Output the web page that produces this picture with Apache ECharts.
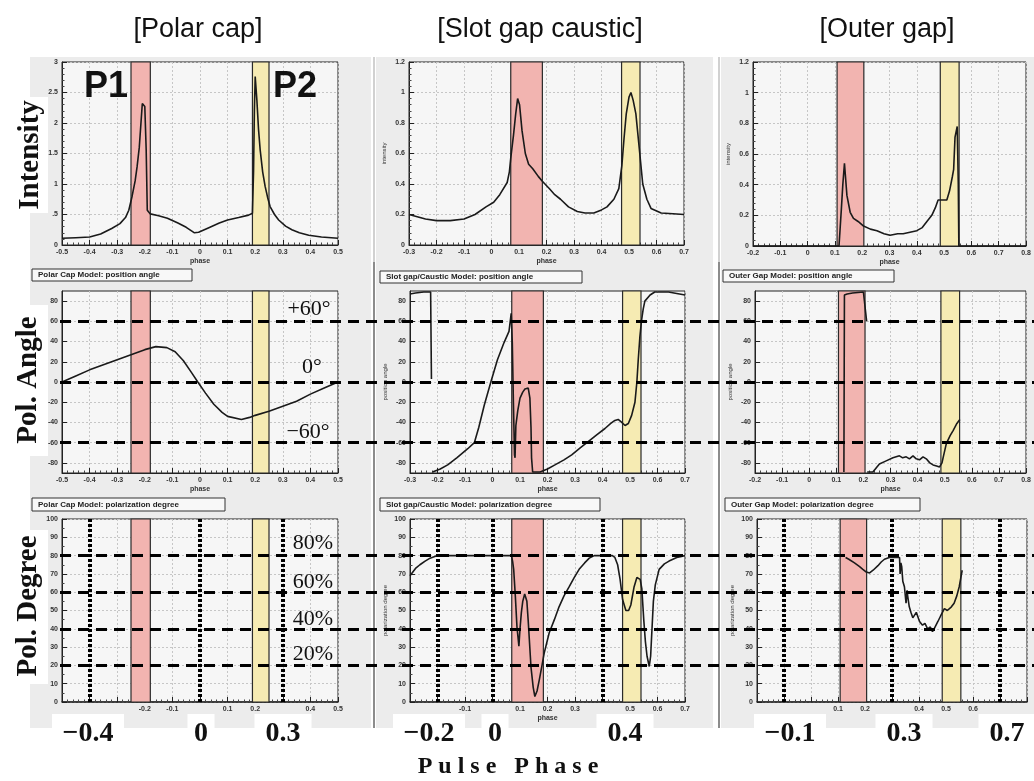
<!DOCTYPE html>
<html>
<head>
<meta charset="utf-8">
<script src="https://cdn.jsdelivr.net/npm/echarts@6/dist/echarts.min.js"></script>
<style>
  html, body { margin: 0; padding: 0; background: #ffffff; }
  #chart { width: 1034px; height: 781px; }
</style>
</head>
<body>
<div id="chart"></div>
<script>
// ---- Phase windows of the two peaks (P1 red, P2 yellow) per model ----
const pcBands = [[-0.25, -0.18], [0.19, 0.25]];
const scBands = [[0.07, 0.185], [0.473, 0.54]];
const ogBands = [[0.108, 0.206], [0.486, 0.555]];

// ---- Light curves: [phase, intensity] ----
const pcIntensity = [[-0.5,0.11],[-0.45,0.12],[-0.4,0.13],[-0.36,0.18],[-0.32,0.27],[-0.29,0.35],[-0.27,0.45],
  [-0.258,0.57],[-0.246,0.8],[-0.235,1.05],[-0.228,1.28],[-0.22,1.6],[-0.215,1.93],[-0.209,2.32],[-0.2,2.27],
  [-0.195,1.56],[-0.191,0.57],[-0.18,0.51],[-0.15,0.48],[-0.118,0.44],[-0.08,0.36],[-0.05,0.29],[-0.02,0.2],
  [-0.005,0.21],[0.03,0.28],[0.07,0.36],[0.1,0.41],[0.14,0.45],[0.176,0.49],[0.19,0.52],[0.194,1.2],[0.197,2.2],
  [0.2,2.76],[0.206,2.38],[0.212,1.9],[0.218,1.56],[0.227,1.2],[0.236,0.96],[0.245,0.78],[0.254,0.63],[0.27,0.5],
  [0.285,0.41],[0.31,0.31],[0.333,0.25],[0.36,0.2],[0.394,0.16],[0.44,0.13],[0.5,0.11]];
const scIntensity = [[-0.3,0.2],[-0.27,0.185],[-0.24,0.17],[-0.2,0.16],[-0.15,0.16],[-0.1,0.17],[-0.06,0.2],
  [-0.02,0.25],[0.008,0.28],[0.03,0.33],[0.057,0.41],[0.065,0.48],[0.07,0.57],[0.08,0.72],[0.088,0.86],[0.095,0.96],
  [0.102,0.92],[0.111,0.75],[0.123,0.6],[0.135,0.53],[0.15,0.5],[0.17,0.45],[0.184,0.42],[0.21,0.37],[0.23,0.33],
  [0.251,0.3],[0.28,0.25],[0.312,0.22],[0.34,0.21],[0.372,0.21],[0.4,0.23],[0.42,0.25],[0.445,0.3],[0.463,0.37],
  [0.474,0.52],[0.482,0.7],[0.49,0.86],[0.5,0.97],[0.507,1.0],[0.515,0.95],[0.525,0.86],[0.537,0.64],[0.55,0.4],
  [0.565,0.3],[0.58,0.24],[0.617,0.21],[0.66,0.205],[0.7,0.2]];
const ogIntensity = [[-0.2,0],[0.115,0],[0.119,0.11],[0.124,0.25],[0.129,0.4],[0.135,0.54],[0.144,0.33],
  [0.156,0.22],[0.168,0.18],[0.185,0.16],[0.205,0.13],[0.23,0.11],[0.254,0.1],[0.28,0.08],[0.302,0.07],[0.33,0.08],
  [0.35,0.08],[0.375,0.09],[0.4,0.1],[0.42,0.12],[0.437,0.16],[0.455,0.2],[0.468,0.25],[0.478,0.3],[0.495,0.3],
  [0.51,0.3],[0.52,0.36],[0.53,0.45],[0.535,0.5],[0.54,0.71],[0.548,0.78],[0.552,0.4],[0.554,0],[0.8,0]];

// ---- Position angle: [phase, degrees] (null = wrap-around break) ----
const pcAngle = [[-0.5,0],[-0.45,6],[-0.4,12],[-0.35,17],[-0.3,22],[-0.25,27],[-0.2,32],[-0.16,35],[-0.12,34],
  [-0.09,30],[-0.06,21],[-0.03,9],[-0.008,0],[0.02,-11],[0.05,-22],[0.08,-30],[0.1,-34],[0.15,-37],[0.18,-35],
  [0.2,-33],[0.25,-29],[0.3,-24],[0.35,-19],[0.4,-12],[0.45,-6],[0.5,0]];
const scAngle = [[-0.3,87],[-0.28,88],[-0.25,89],[-0.225,89],[-0.222,88],[-0.222,3],[-0.221,null],[-0.218,-89],
  [-0.19,-86],[-0.163,-82],[-0.13,-75],[-0.09,-66],[-0.066,-60],[-0.05,-45],[-0.03,-23],[-0.006,0],[0.018,22],
  [0.042,39],[0.06,50],[0.068,68],[0.072,39],[0.076,-20],[0.08,-72],[0.082,-75],[0.085,-43],[0.092,-28],[0.1,-16],
  [0.11,-10],[0.118,-7],[0.13,-6],[0.136,-16],[0.14,-45],[0.142,-75],[0.146,-89],[0.173,-89],[0.2,-86],[0.227,-82],
  [0.26,-77],[0.288,-72],[0.32,-65],[0.348,-59],[0.38,-52],[0.409,-46],[0.43,-41],[0.445,-38],[0.457,-37],
  [0.47,-40],[0.482,-43],[0.494,-41],[0.506,-33],[0.518,-20],[0.525,0],[0.53,22],[0.536,45],[0.542,61],[0.548,72],
  [0.554,80],[0.573,86],[0.59,89],[0.64,89],[0.7,86]];
const ogAngle = [[0.128,-89],[0.13,86],[0.14,87],[0.16,88],[0.18,88.5],[0.2,89],[0.207,89.5],[0.212,60],
  [0.213,null],[0.214,-89],[0.235,-89],[0.259,-81],[0.284,-78],[0.309,-75],[0.333,-73],[0.345,-75],[0.358,-74],
  [0.37,-76],[0.383,-73],[0.395,-76],[0.407,-77],[0.42,-74],[0.432,-76],[0.445,-80],[0.457,-82],[0.47,-83],
  [0.481,-84],[0.49,-80],[0.494,-75],[0.506,-61],[0.52,-53],[0.531,-48],[0.545,-41],[0.556,-37]];

// ---- Polarization degree: [phase, percent] ----
const pcDegree = [];
const scDegree = [[-0.3,69],[-0.294,70],[-0.28,73],[-0.264,75],[-0.245,77],[-0.227,78.6],[-0.2,80],[0.069,80],
  [0.073,77],[0.077,72.5],[0.083,58],[0.089,41],[0.096,30.5],[0.1,40],[0.105,49],[0.11,55],[0.117,59],[0.125,55],
  [0.13,44],[0.134,34],[0.14,19],[0.148,8],[0.154,3],[0.162,6],[0.17,12],[0.18,20],[0.188,26.7],[0.206,37.7],
  [0.225,45],[0.242,52],[0.26,58],[0.279,63],[0.297,68],[0.315,72.5],[0.335,76],[0.352,78.6],[0.37,80],[0.436,80],
  [0.445,79],[0.455,75],[0.464,67],[0.473,56],[0.485,50],[0.495,50],[0.503,53],[0.515,63],[0.525,68],[0.531,69],
  [0.537,67],[0.543,62],[0.55,45],[0.556,33],[0.562,25],[0.57,19.4],[0.575,25],[0.58,40],[0.585,55],[0.592,64],
  [0.606,72.5],[0.625,75.5],[0.642,77],[0.67,79],[0.7,80]];
const ogDegree = [[0.128,79],[0.14,78],[0.161,76],[0.18,74],[0.192,72.5],[0.205,71],[0.217,70.5],[0.23,72],
  [0.248,74.5],[0.26,76.5],[0.272,78],[0.29,79],[0.309,79],[0.328,79],[0.33,70],[0.333,76],[0.336,74],[0.34,66],
  [0.346,63],[0.352,54],[0.356,61],[0.358,58],[0.364,52],[0.37,49],[0.377,46],[0.383,47],[0.39,49],[0.395,48],
  [0.402,44],[0.413,42],[0.422,43],[0.432,40],[0.442,41],[0.45,38.5],[0.456,40],[0.462,41],[0.47,44],[0.48,47],
  [0.494,51],[0.505,50],[0.512,50],[0.52,52],[0.53,54],[0.54,58],[0.549,63],[0.555,68],[0.56,72]];

// ---- Reference levels and phases ----
const angleRefs = [60, 0, -60];
const degreeRefs = [80, 60, 40, 20];
const pcPhaseMarks = [-0.4, 0, 0.3];
const scPhaseMarks = [-0.2, 0, 0.4];
const ogPhaseMarks = [-0.1, 0.3, 0.7];
const angleTicks = [-80, -60, -40, -20, 0, 20, 40, 60, 80];

// Phase tick labels left visible under the bottom row
const pcDegreeTicks = ['-0.2', '-0.1', '0.1', '0.2', '0.4', '0.5'];
const scDegreeTicks = ['-0.1', '0.1', '0.2', '0.3', '0.5', '0.6', '0.7'];
const ogDegreeTicks = ['0.1', '0.2', '0.4', '0.5', '0.6'];

// ---- Text ----
const modelTitles = ['[Polar cap]', '[Slot gap caustic]', '[Outer gap]'];
const rowTitles = ['Intensity', 'Pol. Angle', 'Pol. Degree'];
const boxTitles = [
  'Polar Cap Model: position angle', 'Slot gap/Caustic Model: position angle', 'Outer Gap Model: position angle',
  'Polar Cap Model: polarization degree', 'Slot gap/Caustic Model: polarization degree', 'Outer Gap Model: polarization degree'
];

// ---------------------------------------------------------------------------
const INK = '#1a1a1a';
const RED = '#f2b4b0';
const YEL = '#f6ebb3';

function phaseText(v) {
  const s = (Math.round(v * 10) / 10).toFixed(1);
  return (s === '0.0' || s === '-0.0') ? '0' : s;
}

// Plot frames: [left, top, width, height]
const frames = [
  [62, 62, 276, 183], [409, 62, 275, 183], [753, 62, 273, 184],
  [62, 291, 276, 182], [410, 291, 275, 182], [755, 291, 271, 182],
  [62, 519, 276, 183], [410, 519, 275, 183], [757, 519, 270, 183]
];
const xRanges = [[-0.5, 0.5], [-0.3, 0.7], [-0.2, 0.8]];

const grids = frames.map(f => ({
  left: f[0], top: f[1], width: f[2], height: f[3],
  show: true, backgroundColor: '#f6f6f6', borderColor: '#222', borderWidth: 1
}));
// overlay frames for the reference levels that run across all columns
grids.push({ left: 60, top: 291, width: 974, height: 182, show: false });
grids.push({ left: 60, top: 519, width: 974, height: 183, show: false });

const tickLabelStyle = { fontSize: 7, fontWeight: 'bold', color: '#333', fontFamily: 'Liberation Sans' };
const splitStyle = { show: true, lineStyle: { color: '#c6c6c6', type: [2, 2], width: 1 } };

const xAxes = [], yAxes = [];
for (let i = 0; i < 9; i++) {
  const row = Math.floor(i / 3), col = i % 3;
  const r = xRanges[col];
  const shownTicks = row === 2 ? [pcDegreeTicks, scDegreeTicks, ogDegreeTicks][col] : null;
  xAxes.push({
    type: 'value', gridIndex: i, min: r[0], max: r[1], interval: 0.1,
    axisLine: { show: true, onZero: false, lineStyle: { color: '#222', width: row === 2 ? 1.5 : 1 } },
    axisTick: { show: true, inside: true, length: 5, lineStyle: { color: '#222' } },
    minorTick: { show: true, splitNumber: 5, length: 2.5, lineStyle: { color: '#444' } },
    splitLine: splitStyle,
    axisLabel: Object.assign({ margin: 4, formatter: v => {
      const t = phaseText(v);
      if (shownTicks) return shownTicks.indexOf(t) >= 0 ? t : '';
      return t;
    } }, tickLabelStyle),
    name: row === 2 && col !== 1 ? '' : 'phase', nameLocation: 'middle', nameGap: 13,
    nameTextStyle: { fontSize: 7, fontWeight: 'bold', color: '#333' }
  });
  const yName = col === 0 ? '' : ['intensity', 'position angle', 'polarization degree'][row];
  const yBase = {
    type: 'value', gridIndex: i,
    axisLine: { show: true, onZero: false, lineStyle: { color: '#222' } },
    splitLine: splitStyle,
    name: yName, nameLocation: 'middle', nameRotate: 90, nameGap: col === 0 ? 20 : 22,
    nameTextStyle: { fontSize: 6, color: '#333' }
  };
  if (row === 0) {
    const top = col === 0 ? 3 : 1.2;
    const step = col === 0 ? 0.5 : 0.2;
    yAxes.push(Object.assign(yBase, {
      min: 0, max: top, interval: step,
      axisTick: { show: true, inside: true, length: 5, lineStyle: { color: '#222' } },
      minorTick: { show: true, splitNumber: 5, length: 2.5, lineStyle: { color: '#444' } },
      axisLabel: Object.assign({ margin: 4, formatter: v => {
        if (col === 0) return v === 0 ? '0' : (v === 0.5 ? '.5' : String(v));
        return v === 0 ? '0' : String(Math.round(v * 10) / 10);
      } }, tickLabelStyle)
    }));
  } else if (row === 1) {
    yAxes.push(Object.assign(yBase, {
      min: -90, max: 90,
      axisTick: { show: true, inside: true, length: 5, customValues: angleTicks, lineStyle: { color: '#222' } },
      axisLabel: Object.assign({ margin: 4, customValues: angleTicks }, tickLabelStyle)
    }));
  } else {
    yAxes.push(Object.assign(yBase, {
      min: 0, max: 100, interval: 10,
      axisTick: { show: true, inside: true, length: 5, lineStyle: { color: '#222' } },
      minorTick: { show: true, splitNumber: 2, length: 2.5, lineStyle: { color: '#444' } },
      axisLabel: Object.assign({ margin: 4 }, tickLabelStyle)
    }));
  }
}
// overlay axes
xAxes.push({ type: 'value', gridIndex: 9, min: 0, max: 1, show: false });
xAxes.push({ type: 'value', gridIndex: 10, min: 0, max: 1, show: false });
yAxes.push({ type: 'value', gridIndex: 9, min: -90, max: 90, show: false });
yAxes.push({ type: 'value', gridIndex: 10, min: 0, max: 100, show: false });

const bandsByCol = [pcBands, scBands, ogBands];
const curves = [pcIntensity, scIntensity, ogIntensity, pcAngle, scAngle, ogAngle, pcDegree, scDegree, ogDegree];
const phaseMarksByCol = [pcPhaseMarks, scPhaseMarks, ogPhaseMarks];

const series = [];
for (let i = 0; i < 9; i++) {
  const row = Math.floor(i / 3), col = i % 3;
  const b = bandsByCol[col];
  const bandBorder = { borderColor: '#2a2a2a', borderWidth: 1.2 };
  series.push({
    type: 'line', xAxisIndex: i, yAxisIndex: i, data: [], z: 1, silent: true,
    markArea: {
      silent: true,
      data: [
        [{ xAxis: b[0][0], itemStyle: Object.assign({ color: RED }, bandBorder) }, { xAxis: b[0][1] }],
        [{ xAxis: b[1][0], itemStyle: Object.assign({ color: YEL }, bandBorder) }, { xAxis: b[1][1] }]
      ]
    }
  });
  const s = {
    type: 'line', xAxisIndex: i, yAxisIndex: i, data: curves[i], z: 3,
    showSymbol: false, symbol: 'none', connectNulls: false,
    lineStyle: { color: INK, width: 1.6 }
  };
  if (row === 2) {
    s.markLine = {
      silent: true, symbol: ['none', 'none'], label: { show: false },
      lineStyle: { color: '#000', width: 4, type: [3, 2] },
      data: phaseMarksByCol[col].map(v => ({ xAxis: v }))
    };
  }
  series.push(s);
}
series.push({
  type: 'line', xAxisIndex: 9, yAxisIndex: 9, data: [], z: 10,
  markLine: {
    silent: true, symbol: ['none', 'none'], label: { show: false },
    lineStyle: { color: '#000', width: 3, type: [11, 7] },
    data: angleRefs.map(v => ({ yAxis: v }))
  }
});
series.push({
  type: 'line', xAxisIndex: 10, yAxisIndex: 10, data: [], z: 10,
  markLine: {
    silent: true, symbol: ['none', 'none'], label: { show: false },
    lineStyle: { color: '#000', width: 3, type: [11, 7] },
    data: degreeRefs.map(v => ({ yAxis: v }))
  }
});

// ---- decorations: panels, headings, captions ----
const graphics = [];
[[30, 57, 341, 671], [376, 57, 337, 671], [721, 57, 313, 671]].forEach(p => {
  graphics.push({ type: 'rect', z: -10, shape: { x: p[0], y: p[1], width: p[2], height: p[3] }, style: { fill: '#ececec' } });
});
[374, 719].forEach(x => {
  graphics.push({ type: 'line', z: -5, shape: { x1: x, y1: 57, x2: x, y2: 262 }, style: { stroke: '#c2c2c2', lineWidth: 1.5 } });
  graphics.push({ type: 'line', z: -5, shape: { x1: x, y1: 262, x2: x, y2: 728 }, style: { stroke: '#8c8c8c', lineWidth: 2 } });
});

// model headings
[[198, 30], [540, 30], [887, 30]].forEach((p, k) => {
  graphics.push({ type: 'text', z: 50, x: p[0], y: p[1],
    style: { text: modelTitles[k], fill: '#111', font: '27px "Liberation Sans"', textAlign: 'center', textVerticalAlign: 'middle' } });
});

// row titles (rotated)
[[31, 155, 97, 213], [29, 380, 305, 456], [29, 606, 530, 684]].forEach((p, k) => {
  graphics.push({ type: 'rect', z: 40, shape: { x: 14, y: p[2], width: 34, height: p[3] - p[2] }, style: { fill: '#ffffff' } });
  graphics.push({ type: 'text', z: 50, x: p[0], y: p[1], rotation: Math.PI / 2,
    style: { text: rowTitles[k], fill: '#111', font: 'bold 29px "Liberation Serif"', textAlign: 'center', textVerticalAlign: 'middle' } });
});

// model caption boxes
[[32, 269, 160, 12], [380, 271, 202, 12], [723, 270, 171, 12],
 [32, 498, 193, 13], [380, 498, 220, 13], [725, 498, 195, 13]].forEach((p, k) => {
  graphics.push({ type: 'rect', z: 40, shape: { x: p[0], y: p[1], width: p[2], height: p[3] },
    style: { fill: '#f8f8f8', stroke: '#333', lineWidth: 1 } });
  graphics.push({ type: 'text', z: 41, x: p[0] + 6, y: p[1] + p[3] / 2,
    style: { text: boxTitles[k], fill: '#222', font: 'bold 8px "Liberation Sans"', textVerticalAlign: 'middle' } });
});

// peak labels
[['P1', 106, 87], ['P2', 295, 87]].forEach(p => {
  graphics.push({ type: 'text', z: 50, x: p[1], y: p[2],
    style: { text: p[0], fill: '#111', font: 'bold 36px "Liberation Sans"', textAlign: 'center', textVerticalAlign: 'middle' } });
});

// reference level labels
[['+60°', 309, 309], ['0°', 312, 367], ['\u221260°', 308, 432],
 ['80%', 313, 543], ['60%', 313, 582], ['40%', 313, 619], ['20%', 313, 654]].forEach(p => {
  graphics.push({ type: 'text', z: 50, x: p[1], y: p[2],
    style: { text: p[0], fill: '#111', font: '22px "Liberation Serif"', textAlign: 'center', textVerticalAlign: 'middle' } });
});

// pulse-phase markers under the bottom row
[['\u22120.4', 88], ['0', 201], ['0.3', 283], ['\u22120.2', 429], ['0', 495], ['0.4', 625],
 ['\u22120.1', 790], ['0.3', 904], ['0.7', 1007]].forEach(p => {
  const w = p[0].length * 15 + 12;
  graphics.push({ type: 'rect', z: 45, shape: { x: p[1] - w / 2, y: 714, width: w, height: 38 }, style: { fill: '#ffffff' } });
  graphics.push({ type: 'text', z: 50, x: p[1], y: 734,
    style: { text: p[0], fill: '#111', font: 'bold 28px "Liberation Serif"', textAlign: 'center', textVerticalAlign: 'middle' } });
});

graphics.push({ type: 'text', z: 50, x: 508, y: 767,
  style: { text: 'P u l s e   P h a s e', fill: '#111', font: 'bold 24px "Liberation Serif"', textAlign: 'center', textVerticalAlign: 'middle' } });

const chart = echarts.init(document.getElementById('chart'), null, { renderer: 'canvas' });
chart.setOption({
  backgroundColor: '#ffffff',
  animation: false,
  grid: grids,
  xAxis: xAxes,
  yAxis: yAxes,
  series: series,
  graphic: { elements: graphics }
});
</script>
</body>
</html>
